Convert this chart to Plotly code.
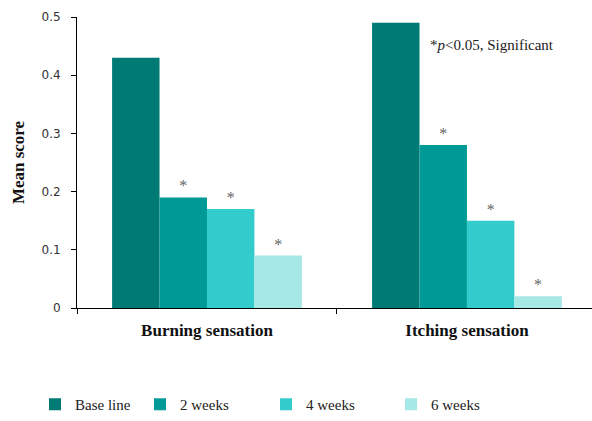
import plotly.graph_objects as go

categories = ["Burning sensation", "Itching sensation"]
series_names = ["Base line", "2 weeks", "4 weeks", "6 weeks"]
baseline = [0.43, 0.49]
week2 = [0.19, 0.28]
week4 = [0.17, 0.15]
week6 = [0.09, 0.02]
stars = [["", ""], ["*", "*"], ["*", "*"], ["*", "*"]]
colors = ["#007a75", "#009a96", "#33cccc", "#a6e8e6"]
y_ticks = [0, 0.1, 0.2, 0.3, 0.4, 0.5]
y_ticklabels = ["0", "0.1", "0.2", "0.3", "0.4", "0.5"]

serif = "Liberation Serif"
values = [baseline, week2, week4, week6]
legend_names = ["legend", "legend2", "legend3", "legend4"]
legend_x = [35, 140, 266, 391]

fig = go.Figure()
for i, (name, vals) in enumerate(zip(series_names, values)):
    fig.add_trace(go.Bar(
        x=categories, y=vals, name=name,
        marker=dict(color=colors[i], line=dict(width=0)),
        text=stars[i], textposition="outside",
        textfont=dict(family=serif, size=16, color="#666666"),
        cliponaxis=False,
        legend=legend_names[i],
    ))

W, H = 592, 421
ml, mt, mb = 77, 17, 109
legend_common = dict(
    orientation="h", xanchor="left", yanchor="middle",
    font=dict(family=serif, size=15, color="#222222"),
    bgcolor="rgba(0,0,0,0)", itemwidth=30,
)
layout_legends = {}
for i, ln in enumerate(legend_names):
    layout_legends[ln] = dict(legend_common, x=(legend_x[i] - ml) / (W - ml),
                              y=-(410 - (H - mb)) / (H - mt - mb))

fig.update_layout(
    width=W, height=H,
    margin=dict(l=ml, r=0, t=mt, b=mb, pad=0),
    plot_bgcolor="white", paper_bgcolor="white",
    barmode="group", bargap=0.27, bargroupgap=0,
    showlegend=True,
    xaxis=dict(
        range=[-0.5, 1.481], showline=True, linecolor="black", linewidth=1,
        ticks="outside", tickson="boundaries", ticklen=5, tickcolor="black",
        tickfont=dict(family=serif, size=17, color="#111111", weight="bold"),
        ticklabelstandoff=7,
        showgrid=False, zeroline=False,
    ),
    yaxis=dict(
        range=[0, 0.5], tickvals=y_ticks, ticktext=y_ticklabels,
        showline=True, linecolor="black", linewidth=1,
        ticks="outside", ticklen=5, tickcolor="black",
        tickfont=dict(family="DejaVu Sans", size=12, color="#333333"),
        ticklabelstandoff=8,
        showgrid=False, zeroline=False,
        title=dict(text="<b>Mean score</b>", font=dict(family=serif, size=17, color="#111111"), standoff=12),
    ),
    annotations=[dict(
        text="*<i>p</i>&lt;0.05, Significant", xref="paper", yref="paper",
        x=(428 - ml) / (W - ml), y=(H - mb - 45) / (H - mt - mb),
        xanchor="left", yanchor="middle", showarrow=False,
        font=dict(family=serif, size=15, color="#222222"),
    )],
    **layout_legends,
)

fig.write_html("out.html")
